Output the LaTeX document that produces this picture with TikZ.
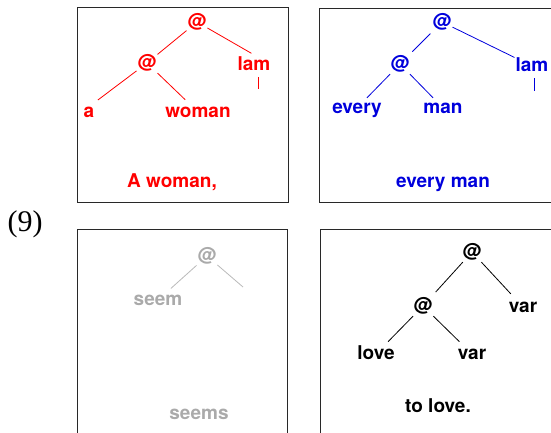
\documentclass[tikz,border=0pt]{standalone}
\usepackage{fontspec}
\setmainfont{TeX Gyre Heros}
\newfontfamily\numserif{Liberation Serif}
\definecolor{myred}{RGB}{255,0,0}
\definecolor{myblue}{RGB}{0,0,220}
\definecolor{mygray}{RGB}{170,170,170}
\definecolor{mygrayline}{RGB}{185,185,185}
\definecolor{frame}{RGB}{40,40,40}
\begin{document}
\begin{tikzpicture}[x=1pt,y=-1pt,
  lbl/.style={font=\fontsize{19}{22}\selectfont\bfseries, inner sep=1pt, text height=14pt, text depth=4pt, anchor=base},
  capt/.style={font=\fontsize{19}{22}\selectfont\bfseries, inner sep=0pt, anchor=base},
  panel/.style={draw=frame, line width=0.9pt},
  edge/.style={line width=0.8pt}]
\useasboundingbox (0,0) rectangle (551,432);
% number
\node[font=\numserif\fontsize{30}{33}\selectfont, anchor=base, inner sep=0pt] (num) at (25,231) {(9)};
% panels
\draw[panel] (77,7) rectangle (288,202);
\draw[panel] (319,8) rectangle (565,202);
\draw[panel] (77,229) rectangle (287,445);
\draw[panel] (320,229) rectangle (565,445);
% ---- panel 1 (red)
\begin{scope}[myred]
\node[lbl] (t1) at (197,27) {@};
\node[lbl] (m1) at (147,68) {@};
\node[lbl] (lam1) at (254,70) {lam};
\node[lbl] (a1) at (89,117) {a};
\node[lbl] (w1) at (198,117) {woman};
\node[capt] (c1) at (172,187) {A woman,};
\coordinate (l1a) at (258,77);
\coordinate (l1b) at (258,89);
\draw[edge] (t1) -- (m1);
\draw[edge, shorten >=3pt] (t1) -- (lam1.north);
\draw[edge, shorten >=3pt] (m1) -- (a1.north east);
\draw[edge, shorten >=3pt] (m1) -- (w1);
\draw[edge] (l1a) -- (l1b);
\end{scope}
% ---- panel 2 (blue)
\begin{scope}[myblue]
\node[lbl] (t2) at (442,27) {@};
\node[lbl] (m2) at (400,69) {@};
\node[lbl] (lam2) at (532,71) {lam};
\node[lbl] (e2) at (357,113) {every};
\node[lbl] (n2) at (443,113) {man};
\node[capt] (c2) at (443,187) {every man};
\coordinate (l2a) at (534,78);
\coordinate (l2b) at (534,91);
\draw[edge, shorten <=2pt, shorten >=3pt] (t2) -- (m2);
\draw[edge] (t2) -- (lam2);
\draw[edge] (m2) -- (e2);
\draw[edge] (m2) -- (n2);
\draw[edge] (l2a) -- (l2b);
\end{scope}
% ---- panel 3 (gray)
\begin{scope}[mygray]
\node[lbl] (t3) at (207,261) {@};
\node[lbl] (s3) at (158,305) {seem};
\node[capt] (c3) at (199,419) {seems};
\coordinate (f3) at (243,287);
\draw[edge, mygrayline, shorten >=2pt] (t3) -- (s3);
\draw[edge, mygrayline] (t3) -- (f3);
\end{scope}
% ---- panel 4 (black)
\node[lbl] (t4) at (472,257) {@};
\node[lbl] (m4) at (423,311) {@};
\node[lbl] (v4) at (523,312) {var};
\node[lbl] (lv4) at (376,359) {love};
\node[lbl] (vv4) at (472,359) {var};
\node[capt] (c4) at (438,412) {to love.};
\draw[edge, shorten >=5pt] (t4) -- (m4);
\draw[edge, shorten >=4pt] (t4) -- (v4);
\draw[edge, shorten >=3pt] (m4) -- (lv4);
\draw[edge, shorten >=3pt] (m4) -- (vv4);
\end{tikzpicture}
\end{document}
